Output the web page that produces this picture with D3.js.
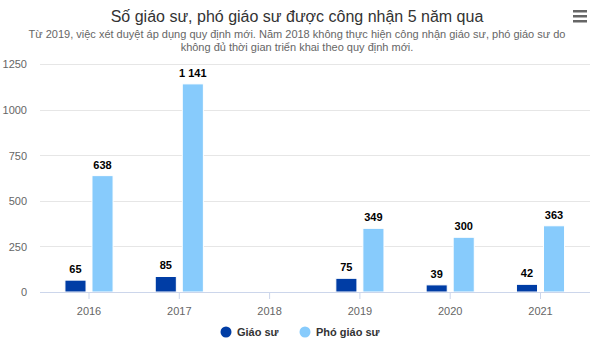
<!DOCTYPE html>
<html><head><meta charset="utf-8">
<script src="https://cdn.jsdelivr.net/npm/d3@7"></script>
<style>body{margin:0;background:#fff}svg{display:block;font-family:"Liberation Sans",Arial,sans-serif}</style>
</head><body><svg id="c" width="594" height="338"></svg>
<script>
const categories = ["2016","2017","2018","2019","2020","2021"];
const giaoSu = [65, 85, null, 75, 39, 42];
const phoGiaoSu = [638, 1141, null, 349, 300, 363];
const yTicks = [0, 250, 500, 750, 1000, 1250];
const seriesNames = ["Giáo sư", "Phó giáo sư"];
const colors = ["#003da5", "#87cbfc"];

const svg = d3.select("#c");
const plotL = 40, plotR = 590, plotT = 64, plotB = 292;

svg.append("text").attr("x", 297).attr("y", 22).attr("text-anchor","middle")
  .attr("font-size", 16).attr("fill", "#333").text("Số giáo sư, phó giáo sư được công nhận 5 năm qua");
svg.append("text").attr("x", 297).attr("y", 38).attr("text-anchor","middle")
  .attr("font-size", 11).attr("fill", "#666").text("Từ 2019, việc xét duyệt áp dụng quy định mới. Năm 2018 không thực hiện công nhận giáo sư, phó giáo sư do");
svg.append("text").attr("x", 297).attr("y", 51).attr("text-anchor","middle")
  .attr("font-size", 11).attr("fill", "#666").text("không đủ thời gian triển khai theo quy định mới.");

// menu icon
[0,5,10].forEach(d => svg.append("rect").attr("x", 573).attr("y", 10+d).attr("width", 14).attr("height", 2.5).attr("fill", "#666"));

const y = d3.scaleLinear().domain([0, 1250]).range([plotB, plotT]);
const x = d3.scaleBand().domain(categories).range([43.85, 585.65]);
const inner = d3.scaleBand().domain([0,1]).range([0, x.bandwidth()]).paddingInner(0.22).paddingOuter(0.78);

// gridlines
svg.append("g").selectAll("line").data(yTicks.filter(t => t > 0)).join("line")
  .attr("x1", plotL).attr("x2", plotR).attr("y1", d => Math.round(y(d))+0.5).attr("y2", d => Math.round(y(d))+0.5)
  .attr("stroke", "#e6e6e6");

const yAxis = d3.axisLeft(y).tickValues(yTicks).tickFormat(d3.format("d")).tickSize(0).tickPadding(8);
const gy = svg.append("g").attr("transform", `translate(${plotL},0)`).call(yAxis);
gy.select(".domain").remove();
gy.selectAll("text").attr("font-size", 11).attr("fill", "#666").attr("font-family", "Liberation Sans, Arial, sans-serif").attr("dy", "0.35em").attr("x", -13);

// bars
const series = [giaoSu, phoGiaoSu];
series.forEach((vals, si) => {
  const g = svg.append("g");
  const data = categories.map((c, i) => ({c, v: vals[i]})).filter(d => d.v != null);
  g.selectAll("rect").data(data).join("rect")
    .attr("x", d => x(d.c) + inner(si))
    .attr("y", d => y(d.v))
    .attr("width", inner.bandwidth())
    .attr("height", d => plotB - y(d.v))
    .attr("fill", colors[si]).attr("stroke", "#fff").attr("stroke-width", 1);
  g.selectAll("text").data(data).join("text")
    .attr("x", d => x(d.c) + inner(si) + inner.bandwidth()/2)
    .attr("y", d => y(d.v) - 7)
    .attr("text-anchor", "middle").attr("font-size", 11).attr("font-weight", "bold")
    .attr("fill", "#000").attr("stroke", "#fff").attr("stroke-width", 2).attr("paint-order", "stroke")
    .text(d => d3.format(",")(d.v).replace(/,/g, " "));
});

// x axis
const xAxis = d3.axisBottom(x).tickSize(6).tickSizeOuter(0);
const gx = svg.append("g").attr("transform", `translate(0,${plotB})`).call(xAxis);
gx.select(".domain").remove();
gx.selectAll(".tick line").attr("stroke", "#ccd6eb").attr("y2", 7);
gx.selectAll("text").attr("font-size", 11).attr("fill", "#666").attr("font-family", "Liberation Sans, Arial, sans-serif").attr("dy", "1.25em");
svg.append("line").attr("x1", plotL).attr("x2", plotR).attr("y1", plotB+0.5).attr("y2", plotB+0.5).attr("stroke", "#ccd6eb");

// legend
const legX = [226, 305];
seriesNames.forEach((n, i) => {
  svg.append("circle").attr("cx", legX[i]).attr("cy", 332).attr("r", 5.5).attr("fill", colors[i]);
  svg.append("text").attr("x", legX[i] + 11).attr("y", 336).attr("font-size", 11).attr("font-weight", "bold").attr("fill", "#333").text(n);
});
</script></body></html>
